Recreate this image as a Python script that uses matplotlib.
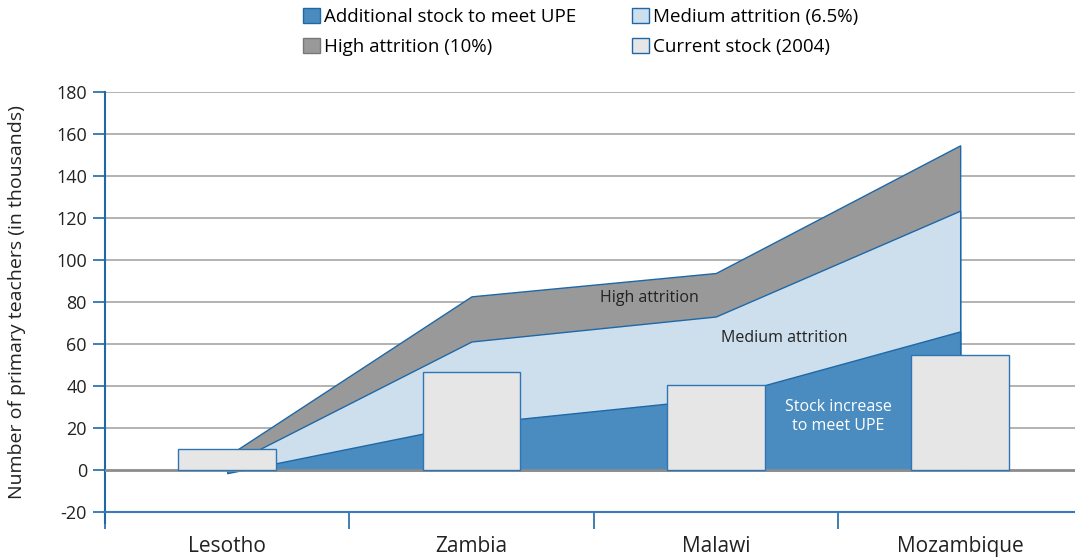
import matplotlib.pyplot as plt
from matplotlib.patches import Patch
from matplotlib.ticker import FuncFormatter

# Data (thousands of teachers)
countries = ["Lesotho", "Zambia", "Malawi", "Mozambique"]
current_stock = [9.9, 46.5, 40.6, 54.6]
additional_upe = [-1.5, 22.0, 34.0, 66.0]
medium_attrition = [2.1, 61.2, 73.1, 123.5]
high_attrition = [6.6, 82.7, 93.8, 154.6]

# Colours
dark_blue = "#4a8cbf"
light_blue = "#cddfed"
grey = "#999999"
bar_grey = "#e6e6e6"
edge_blue = "#1e68a8"

plt.rcParams['font.family'] = ['Open Sans', 'DejaVu Sans']

fig = plt.figure(figsize=(10.75, 5.6), dpi=100)
ax = fig.add_axes([105 / 1075, 1 - 512 / 560, 1 - 105 / 1075, (512 - 92) / 560])

x = list(range(len(countries)))

# Overlapping areas, largest first
ax.fill_between(x, 0, high_attrition, facecolor=grey, edgecolor=edge_blue, linewidth=1, zorder=2)
ax.fill_between(x, 0, medium_attrition, facecolor=light_blue, edgecolor=edge_blue, linewidth=1, zorder=3)
ax.fill_between(x, 0, additional_upe, facecolor=dark_blue, edgecolor=edge_blue, linewidth=1, zorder=4)

# Grid lines
for g in range(20, 181, 20):
    ax.axhline(g, color="#a6a6a6", linewidth=1.2, zorder=1)
ax.axhline(0, color="#8c8c8c", linewidth=2, zorder=5)

# Current stock bars
ax.bar(x, current_stock, width=0.4, color=bar_grey, edgecolor="#2f74b3", linewidth=1, zorder=6)

# In-chart labels
ax.text(1.727, 82, "High attrition", ha="center", va="center", fontsize=11.5, color="#222222", zorder=7)
ax.text(2.28, 63, "Medium attrition", ha="center", va="center", fontsize=11.5, color="#222222", zorder=7)
ax.text(2.50, 25.5, "Stock increase\nto meet UPE", ha="center", va="center", fontsize=11.5,
        color="white", linespacing=1.2, zorder=7)

ax.set_yticks(range(-20, 181, 20))
ax.yaxis.set_major_formatter(FuncFormatter(lambda v, p: "%d" % v))
ax.tick_params(axis="y", colors=edge_blue, length=9, width=1.2, labelsize=13, labelcolor="#222222", pad=4)

ax.set_xticks([-0.5, 0.5, 1.5, 2.5, 3.5])
ax.set_xticklabels([])
ax.set_xticks(x, minor=True)
ax.set_xticklabels(countries, minor=True, fontsize=15, color="#222222")
ax.tick_params(axis="x", which="major", colors=edge_blue, length=12, width=1.2)
ax.tick_params(axis="x", which="minor", length=0, pad=17)

ax.set_xlim(-0.5, 3.47)
ax.set_ylim(-20, 180)

for side in ["top", "right"]:
    ax.spines[side].set_visible(False)
ax.spines["left"].set_color(edge_blue)
ax.spines["left"].set_linewidth(1.5)
ax.spines["left"].set_bounds(-25, 180)
ax.spines["bottom"].set_color("#3a7ab8")
ax.spines["bottom"].set_linewidth(1.5)

ax.set_ylabel("Number of primary teachers (in thousands)", fontsize=14, color="#222222", labelpad=22)

handles = [
    Patch(facecolor=dark_blue, edgecolor=edge_blue, label="Additional stock to meet UPE"),
    Patch(facecolor=grey, edgecolor="#777777", label="High attrition (10%)"),
    Patch(facecolor=light_blue, edgecolor=edge_blue, label="Medium attrition (6.5%)"),
    Patch(facecolor=bar_grey, edgecolor=edge_blue, label="Current stock (2004)"),
]
fig.legend(handles=handles, ncol=2, loc="upper left", bbox_to_anchor=(292 / 1075, 1.006),
           frameon=False, fontsize=13.5, handlelength=0.9, handleheight=0.9, handletextpad=0.2,
           columnspacing=3.0, labelspacing=0.62, borderaxespad=0.2)

fig.savefig("out.png", dpi=100)
